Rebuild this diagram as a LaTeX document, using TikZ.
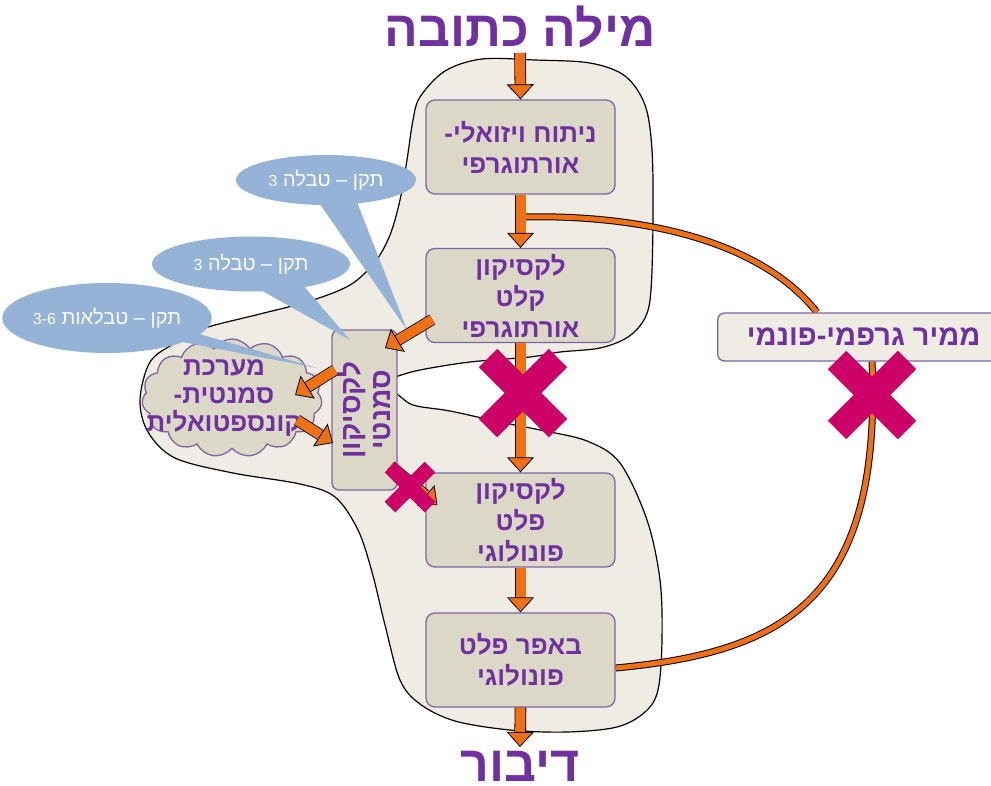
\documentclass[tikz,border=0pt]{standalone}
\usepackage{fontspec}
\usetikzlibrary{arrows.meta,shapes.symbols,shapes.callouts,calc}
\TeXXeTstate=1
\newfontfamily\hebfont[Script=Hebrew]{Liberation Sans}
\newcommand{\heb}[1]{{\hebfont\beginR #1\endR}}
\definecolor{myorange}{RGB}{240,112,20}
\definecolor{txtpurple}{RGB}{112,48,160}
\definecolor{boxborder}{RGB}{128,100,162}
\definecolor{boxfill}{RGB}{220,216,199}
\definecolor{blobfill}{RGB}{238,236,227}
\definecolor{xmag}{RGB}{204,0,102}
\definecolor{callblue}{RGB}{149,179,215}
\pgfdeclarelayer{background}
\pgfsetlayers{background,main}
\tikzset{
  procbox/.style={draw=boxborder, line width=1.3pt, fill=boxfill, rounded corners=9pt,
    minimum width=189pt, minimum height=94pt, align=center, text=txtpurple, inner sep=0pt,
    font=\hebfont\bfseries\fontsize{26}{31}\selectfont},
  bigtxt/.style={text=txtpurple, inner sep=0pt, font=\hebfont\bfseries\fontsize{50}{52}\selectfont},
  cloudtxt/.style={text=txtpurple, inner sep=0pt, align=center,
    font=\hebfont\bfseries\fontsize{26}{28}\selectfont},
  callbub/.style={ellipse callout, fill=callblue, inner sep=0pt, text=white,
    font=\hebfont\fontsize{20}{22}\selectfont},
  blockarrow/.style={line width=10pt, draw=myorange,
    -{Triangle[width=27pt,length=15pt,fill=myorange,color=black,line width=0.8pt]},
    preaction={draw=black, line width=11.6pt, -, shorten >=14pt}},
  wire/.style={draw=myorange, line width=5pt, preaction={draw=black, line width=7pt}},
  xbar/.style={draw=xmag, line width=26pt},
  xbarsmall/.style={draw=xmag, line width=15pt},
  blobstyle/.style={fill=blobfill, draw=black, line width=1.2pt}
}
\newcommand{\numsm}[1]{{\fontsize{16}{16}\selectfont #1}}
\begin{document}
\begin{tikzpicture}[x=1pt,y=-1pt]
\useasboundingbox (0,0) rectangle (991,785);

% main boxes
\node[bigtxt] (title) at (520,27) {\heb{מילה כתובה}};
\node[procbox] (b1) at (520.5,147) {\heb{ניתוח ויזואלי-}\\\heb{אורתוגרפי}};
\node[procbox] (b2) at (520.5,295.5) {\heb{לקסיקון}\\\heb{קלט}\\\heb{אורתוגרפי}};
\node[procbox] (b3) at (520.5,520) {\heb{לקסיקון}\\\heb{פלט}\\\heb{פונולוגי}};
\node[procbox] (b4) at (520.5,660) {\heb{באפר פלט}\\\heb{פונולוגי}};
\node[bigtxt] (speech) at (520,766) {\heb{דיבור}};
\node[procbox, fill=blobfill, minimum width=292pt, minimum height=48pt, rounded corners=7pt,
  anchor=west, font=\hebfont\bfseries\fontsize{29}{30}\selectfont] (conv) at (717,337) {\heb{ממיר גרפמי-פונמי}};

% background blob and wires
\coordinate (br) at (520.5,217);
\begin{pgfonlayer}{background}
\fill[white] (0,0) rectangle (991,785);
\path[blobstyle] plot[smooth cycle, tension=0.55] coordinates {
 (420,97) (445,71) (482,59) (535,60) (590,63) (625,76) (645,105) (652,150) (653,220)
 (651,290) (645,318) (628,337) (600,348) (560,352) (530,357) (470,362) (420,370) (395,377)
 (370,385) (395,393) (413,405) (450,411) (500,422) (540,430) (587,441) (620,463) (647,520)
 (660,580) (662,640) (658,690) (645,712) (617,727) (567,732) (510,730) (455,721) (420,704)
 (400,680) (385,625) (372,572) (358,530) (335,497) (300,484) (233,473) (175,458) (148,432)
 (140,400) (150,362) (175,343) (205,328) (260,314) (310,301) (350,285) (375,262) (390,235)
 (400,200) (407,160) (413,120)};
\draw[wire] (br) .. controls (640,214) and (760,240) .. ([xshift=100pt]conv.north west);
\draw[wire] ([xshift=155pt]conv.south west) .. controls (882,600) and (785,652) .. ([yshift=-8pt]b4.east);
\end{pgfonlayer}

% semantic lexicon and cloud
\node[procbox, rotate=90, minimum width=160pt, minimum height=65pt, rounded corners=7pt,
  font=\hebfont\bfseries\fontsize{28}{30}\selectfont] (vbox) at (364.5,410) {\heb{לקסיקון}\\\heb{סמנטי}};
\node[cloud, cloud puffs=15, cloud puff arc=115, aspect=1.55, draw=boxborder, line width=1.3pt,
  fill=boxfill, minimum width=180pt, minimum height=118pt, inner sep=0pt] (cloud) at (232,398) {};
\node[cloudtxt] (cloudlabel) at (224,398) {\heb{מערכת}\\\heb{סמנטית-}\\\heb{קונספטואלית}};

% callouts
\coordinate (tip1) at (407,330);
\coordinate (tip2) at (350,340);
\coordinate (tip3) at (317,368);
\node[callbub, minimum width=180pt, minimum height=50pt, callout absolute pointer={(tip1)},
  callout pointer arc=24] (c1) at (326,180) {\heb{תקן – טבלה \numsm{3}}};
\node[callbub, minimum width=198pt, minimum height=55pt, callout absolute pointer={(tip2)},
  callout pointer arc=26] (c2) at (251,264) {\heb{תקן – טבלה \numsm{3}}};
\node[callbub, minimum width=202pt, minimum height=70pt, callout absolute pointer={(tip3)},
  callout pointer arc=16] (c3) at (107,318) {\heb{תקן – טבלאות \numsm{\beginL 3-6\endL}}};

% block arrows
\draw[blockarrow] ([yshift=-26pt]title.center) -- (b1.north);
\draw[blockarrow] (b1.south) -- (b2.north);
\draw[blockarrow] (b2.south) -- (b3.north);
\draw[blockarrow] (b3.south) -- (b4.north);
\draw[blockarrow] (b4.south) -- ([yshift=19pt]speech.center);
\draw[blockarrow] ($(b2.west)+(7,24)$) -- ($(vbox.center)+(20.5,-62)$);
\draw[blockarrow] ($(vbox.center)+(-29.5,-40)$) -- ($(cloud.center)+(63,-3)$);
\draw[blockarrow] ($(cloud.center)+(65,22)$) -- ($(vbox.center)+(-31.5,33)$);
\draw[blockarrow] ($(vbox.center)+(26,56)$) -- ($(b3.west)+(12,-15)$);

% crosses
\coordinate (x1) at (523,393);
\coordinate (x2) at (872,395);
\coordinate (x3) at (410,487);
\draw[xbar] ($(x1)+(-35,-35)$) -- ($(x1)+(35,35)$) ($(x1)+(-35,35)$) -- ($(x1)+(35,-35)$);
\draw[xbar] ($(x2)+(-35,-35)$) -- ($(x2)+(35,35)$) ($(x2)+(-35,35)$) -- ($(x2)+(35,-35)$);
\draw[xbarsmall] ($(x3)+(-20,-20)$) -- ($(x3)+(20,20)$) ($(x3)+(-20,20)$) -- ($(x3)+(20,-20)$);
\end{tikzpicture}
\end{document}
